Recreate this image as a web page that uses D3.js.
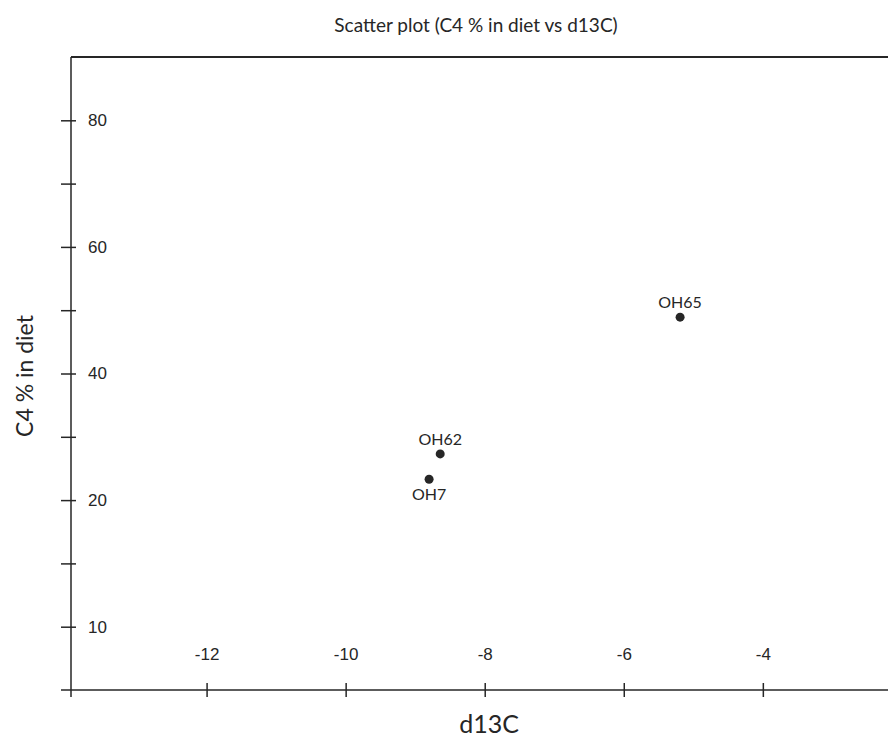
<!DOCTYPE html>
<html>
<head>
<meta charset="utf-8">
<script src="https://cdn.jsdelivr.net/npm/d3@7"></script>
<style>
  body { margin: 0; background: #fff; }
  svg { font-family: Lato, "Liberation Sans", Arial, sans-serif; }
</style>
</head>
<body>
<svg width="888" height="740"></svg>
<script>
//data
var sampleNames = ["OH65", "OH62", "OH7"];
var d13C = [-5.19, -8.64, -8.80];
var c4Diet = [48.9, 27.3, 23.3];
var labelSide = ["above", "above", "below"];

var xTickValues = [-12, -10, -8, -6, -4];
var yTickValues = [80, 70, 60, 50, 40, 30, 20, 10, 0];
var yTickLabels = ["80", "", "60", "", "40", "", "20", "", "10"];

//const declaration
const svgWidth = 888;
const svgHeight = 740;
const margin = {"top": 57, "right": 0, "bottom": 50, "left": 71};
const height = svgHeight - margin.top - margin.bottom;
const width = svgWidth - margin.left - margin.right;
const ink = "#262626";

const svg = d3.select("svg");

var chart = svg.append("g")
  .attr("transform", `translate(${margin.left}, ${margin.top})`);

//scales
var xScale = d3.scaleLinear()
  .domain([-13.95, -2.2])
  .range([0, width]);

var yScale = d3.scaleLinear()
  .domain([-10, 90])
  .range([height, 0]);

//title
svg.append("text")
  .attr("x", 476)
  .attr("y", 32)
  .attr("text-anchor", "middle")
  .attr("font-size", 19)
  .attr("fill", ink)
  .text("Scatter plot (C4 % in diet vs d13C)");

//frame lines (top, y axis, x axis)
chart.append("line")
  .attr("x1", 0).attr("x2", width)
  .attr("y1", 0).attr("y2", 0)
  .attr("stroke", ink)
  .attr("stroke-width", 2);

chart.append("line")
  .attr("x1", 0).attr("x2", 0)
  .attr("y1", 0).attr("y2", height + 7)
  .attr("stroke", ink)
  .attr("stroke-width", 1.5);

chart.append("line")
  .attr("x1", -10).attr("x2", width)
  .attr("y1", height).attr("y2", height)
  .attr("stroke", ink)
  .attr("stroke-width", 1.5);

//y axis, labels on the right of the line
var yAxis = chart.append("g")
  .attr("id", "yAxis")
  .call(d3.axisRight(yScale)
    .tickValues(yTickValues)
    .tickFormat((d, i) => yTickLabels[i])
    .tickSize(5)
    .tickPadding(12));

yAxis.select(".domain").remove();
yAxis.selectAll(".tick line")
  .attr("x1", -10)
  .attr("stroke", ink)
  .attr("stroke-width", 1.5);
yAxis.selectAll(".tick text")
  .attr("fill", ink)
  .attr("font-size", 17)
  .attr("font-family", null);

//x axis, labels inside the plot above the line
var xAxis = chart.append("g")
  .attr("id", "xAxis")
  .attr("transform", `translate(0, ${height})`)
  .call(d3.axisTop(xScale)
    .tickValues(xTickValues)
    .tickFormat((d) => String(d))
    .tickSize(7)
    .tickPadding(23));

xAxis.select(".domain").remove();
xAxis.selectAll(".tick line")
  .attr("y1", 7)
  .attr("stroke", ink)
  .attr("stroke-width", 1.5);
xAxis.selectAll(".tick text")
  .attr("fill", ink)
  .attr("font-size", 17)
  .attr("font-family", null);

//axis titles
svg.append("text")
  .attr("x", 489)
  .attr("y", 733)
  .attr("text-anchor", "middle")
  .attr("font-size", 25)
  .attr("fill", ink)
  .text("d13C");

svg.append("text")
  .attr("transform", "translate(33, 376) rotate(-90)")
  .attr("text-anchor", "middle")
  .attr("font-size", 23)
  .attr("fill", ink)
  .text("C4 % in diet");

//points
var points = sampleNames.map((name, i) => ({name: name, x: d13C[i], y: c4Diet[i], side: labelSide[i]}));

chart.selectAll("circle")
  .data(points)
  .enter()
  .append("circle")
    .attr("cx", (p) => xScale(p.x))
    .attr("cy", (p) => yScale(p.y))
    .attr("r", 4.5)
    .attr("fill", ink);

chart.selectAll(".pointLabel")
  .data(points)
  .enter()
  .append("text")
    .attr("class", "pointLabel")
    .attr("x", (p) => xScale(p.x))
    .attr("y", (p) => yScale(p.y) + (p.side == "above" ? -9 : 21))
    .attr("text-anchor", "middle")
    .attr("font-size", 16)
    .attr("fill", ink)
    .text((p) => p.name);
</script>
</body>
</html>
